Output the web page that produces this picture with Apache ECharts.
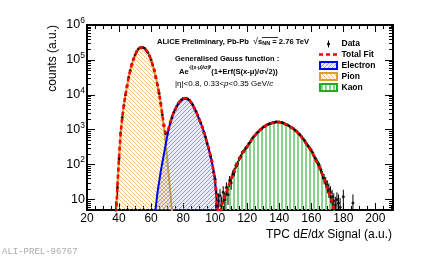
<!DOCTYPE html>
<html><head><meta charset="utf-8">
<script src="https://cdn.jsdelivr.net/npm/echarts@6/dist/echarts.min.js"></script>
<style>html,body{margin:0;padding:0;background:#fff}#c{width:436px;height:257px}</style>
</head><body><div id="c"></div>
<script>
// ---------- data ----------
const pionStart = 38;
const pion = [
  2.5, 25, 160, 790, 2200, 5000, 10000, 17800, 31600, 50100,
  74100, 104700, 138000, 173800, 204000, 224000, 229000, 229000, 214000, 190500,
  162000, 131800, 100000, 72400, 50100, 31600, 19000, 11200, 5620, 2630,
  1150, 447, 158, 52, 16.6, 5, 1.6
];
const electronStart = 62;
const electron = [
  3.2, 6.3, 16, 32, 63, 112, 200, 355, 630, 1050,
  1585, 2240, 3020, 3800, 4680, 5620, 6460, 7240, 7760, 7940,
  7940, 7590, 6920, 6030, 5130, 4170, 3390, 2630, 1995, 1585,
  1175, 851, 603, 417, 282, 186, 117, 66, 33, 8,
  2.5
];
const kaonStart = 103;
const kaon = [
  3.2, 6.6, 8.9, 12, 15.8, 21.9, 29.5, 39.8, 52.5, 70.8,
  89, 112, 141, 178, 214, 251, 288, 331, 389, 457,
  537, 631, 708, 794, 891, 977, 1072, 1175, 1259, 1349,
  1413, 1479, 1549, 1585, 1622, 1660, 1660, 1660, 1622, 1585,
  1514, 1445, 1380, 1288, 1202, 1122, 1047, 955, 871, 776,
  692, 603, 525, 447, 380, 331, 282, 245, 200, 158,
  129, 105, 83, 65, 50, 38, 29, 22, 16, 11.7,
  8.3, 5.6, 3.2
];
const totalStart = 38;
const totalFit = [
  2.5, 25, 160, 790, 2200, 5000, 10000, 17800, 31600, 50100,
  74100, 104700, 138000, 173800, 204000, 224000, 229000, 229000, 214000, 190500,
  162000, 131800, 100000, 72400, 50100, 31610, 19020, 11230, 5680, 2740,
  1350, 802, 788, 1102, 1602, 2245, 3022, 3800, 4680, 5620,
  6460, 7240, 7760, 7940, 7940, 7590, 6920, 6030, 5130, 4170,
  3390, 2630, 1995, 1585, 1175, 851, 603, 417, 282, 186,
  117, 66, 33, 8.8, 4,
  3.2, 6.6, 8.9, 12, 15.8, 21.9, 29.5, 39.8, 52.5, 70.8,
  89, 112, 141, 178, 214, 251, 288, 331, 389, 457,
  537, 631, 708, 794, 891, 977, 1072, 1175, 1259, 1349,
  1413, 1479, 1549, 1585, 1622, 1660, 1660, 1660, 1622, 1585,
  1514, 1445, 1380, 1288, 1202, 1122, 1047, 955, 871, 776,
  692, 603, 525, 447, 380, 331, 282, 245, 200, 158,
  129, 105, 83, 65, 50, 38, 29, 22, 16, 11.7,
  8.3, 5.6, 3.2
];
const dataStart = 38;
const dataCounts = [
  5, 22, 150, 800, 2250, 4900, 10100, 17500, 31900, 49800,
  74500, 104000, 138500, 173000, 205000, 223000, 230000, 228000, 215000, 190000,
  163000, 131000, 100500, 72000, 50400, 31400, 19100, 11150, 5700, 2700,
  1340, 790, 800, 1090, 1620, 2230, 3050, 3780, 4700, 5600,
  6480, 7200, 7800, 7900, 7980, 7550, 6950, 6000, 5150, 4150,
  3400, 2600, 2010, 1570, 1190, 840, 615, 405, 290, 180,
  125, 60, 38, 14, 9, 13, 7, 16, 10, 22,
  14, 35, 30, 55, 62, 95, 105, 150, 170, 225,
  245, 300, 325, 400, 450, 550, 640, 700, 810, 880,
  990, 1060, 1190, 1250, 1360, 1400, 1500, 1530, 1600, 1610,
  1680, 1650, 1670, 1600, 1600, 1500, 1420, 1390, 1300, 1190,
  1140, 1060, 970, 890, 790, 720, 630, 550, 480, 410,
  345, 300, 260, 215, 170, 140, 115, 95, 72, 52,
  40, 33, 25, 20, 16, 12, 9, 7, 10, 8,
  6
];
const dataErrors = [
  4, 9, 25, 57, 95, 140, 200, 265, 360, 445,
  545, 645, 745, 830, 905, 945, 960, 955, 925, 870,
  805, 725, 635, 535, 450, 355, 275, 210, 150, 104,
  73, 56, 57, 66, 80, 95, 110, 123, 137, 150,
  160, 170, 176, 178, 179, 174, 167, 155, 144, 129,
  117, 102, 90, 79, 69, 58, 50, 40, 34, 27,
  22, 15, 12, 8, 6, 7, 5, 8, 6, 9,
  7, 12, 11, 15, 16, 19, 20, 24, 26, 30,
  31, 35, 36, 40, 42, 47, 51, 53, 57, 59,
  63, 65, 69, 71, 74, 75, 77, 78, 80, 80,
  82, 81, 82, 80, 80, 77, 75, 75, 72, 69,
  68, 65, 62, 60, 56, 54, 50, 47, 44, 40,
  37, 35, 32, 29, 26, 24, 21, 19, 17, 14,
  13, 11, 10, 9, 8, 7, 6, 5, 6, 6,
  5
];
const extraDataX = [180, 186];
const extraDataY = [12, 8];
const extraDataErr = [7, 6];

const xMin = 20, xMax = 211, xStep = 20;
const yMin = 5, yMax = 1e6;
const yMinorTicks = [6, 7, 8, 9,
  20, 30, 40, 50, 60, 70, 80, 90,
  200, 300, 400, 500, 600, 700, 800, 900,
  2000, 3000, 4000, 5000, 6000, 7000, 8000, 9000,
  20000, 30000, 40000, 50000, 60000, 70000, 80000, 90000,
  200000, 300000, 400000, 500000, 600000, 700000, 800000, 900000];

// ---------- helpers ----------
function pairs(start, arr) { return arr.map((v, i) => [start + i, v]); }
function hatch(color, kind, size, lw, bg) {
  const c = document.createElement('canvas'); c.width = size; c.height = size;
  const g = c.getContext('2d');
  g.clearRect(0, 0, size, size);
  if (bg) { g.fillStyle = bg; g.fillRect(0, 0, size, size); }
  g.strokeStyle = color; g.lineWidth = lw;
  for (const o of [-size, 0, size]) {
    g.beginPath();
    if (kind === 'back') { g.moveTo(o, 0); g.lineTo(o + size, size); }
    else if (kind === 'fwd') { g.moveTo(o, size); g.lineTo(o + size, 0); }
    else { g.moveTo(size / 2, 0); g.lineTo(size / 2, size); }
    g.stroke();
  }
  return c;
}
const pionCol = '#d9a22a', elecCol = '#0000ff', kaonCol = '#119911', fitCol = '#ff0000';
const pionPat = { image: hatch('rgba(230,160,20,0.6)', 'back', 4, 1), repeat: 'repeat' };
const elecPat = { image: hatch('rgba(110,110,255,0.75)', 'fwd', 4, 0.9, 'rgba(150,150,255,0.2)'), repeat: 'repeat' };
const kaonPat = { image: hatch('#78cc78', 'vert', 4, 1), repeat: 'repeat' };
const FF = 'Liberation Sans, Arial, Helvetica, sans-serif';

const dataPts = pairs(dataStart, dataCounts).map((p, i) => [p[0], p[1], dataErrors[i]])
  .concat(extraDataX.map((x, i) => [x, extraDataY[i], extraDataErr[i]]));

const xAxisBase = {
  type: 'value', min: xMin, max: xMax, interval: xStep,
  axisLine: { show: true, onZero: false, lineStyle: { color: '#000', width: 2 } },
  axisTick: { show: true, inside: true, length: 7, lineStyle: { color: '#000', width: 1 } },
  minorTick: { show: true, splitNumber: 4, length: 4, lineStyle: { color: '#000', width: 1 } },
  splitLine: { show: false }
};
const yAxisBase = {
  type: 'log', logBase: 10, min: yMin, max: yMax,
  axisLine: { show: true, onZero: false, lineStyle: { color: '#000', width: 2 } },
  axisTick: { show: true, inside: true, length: 8, lineStyle: { color: '#000', width: 1 } },
  splitLine: { show: false }
};

const chart = echarts.init(document.getElementById('c'), null, { renderer: 'canvas', width: 436, height: 257 });
chart.setOption({
  animation: false,
  backgroundColor: '#fff',
  grid: { left: 87, right: 43, top: 25, bottom: 47 },
  xAxis: [
    Object.assign({}, xAxisBase, { position: 'bottom',
      axisLabel: { color: '#000', fontSize: 12, fontFamily: FF, margin: 3, showMaxLabel: false } }),
    Object.assign({}, xAxisBase, { position: 'top', axisLabel: { show: false } })
  ],
  yAxis: [
    Object.assign({}, yAxisBase, { position: 'left',
      axisLabel: {
        margin: 2, color: '#000', fontFamily: FF,
        formatter: function (v) {
          const e = Math.round(Math.log10(v));
          if (Math.abs(Math.pow(10, e) - v) > 1e-6 * v) return '';
          if (e === 1) return '{b|10}';
          return '{b|10}{s|' + e + '}';
        },
        rich: {
          b: { fontSize: 12.5, fontFamily: FF, color: '#000', lineHeight: 18 },
          s: { fontSize: 8.5, fontFamily: FF, color: '#000', lineHeight: 10, verticalAlign: 'top' }
        }
      } }),
    Object.assign({}, yAxisBase, { position: 'right', axisLabel: { show: false } })
  ],
  series: [
    { name: 'Pion', type: 'line', data: pairs(pionStart, pion), showSymbol: false, z: 2,
      lineStyle: { color: pionCol, width: 2 }, itemStyle: { color: pionCol },
      areaStyle: { color: pionPat, origin: 'start', opacity: 1 } },
    { name: 'Electron', type: 'line', data: pairs(electronStart, electron), showSymbol: false, z: 3,
      lineStyle: { color: elecCol, width: 2 }, itemStyle: { color: elecCol },
      areaStyle: { color: elecPat, origin: 'start', opacity: 1 } },
    { name: 'Kaon', type: 'line', data: pairs(kaonStart, kaon), showSymbol: false, z: 2,
      lineStyle: { color: kaonCol, width: 2 }, itemStyle: { color: kaonCol },
      areaStyle: { color: kaonPat, origin: 'start', opacity: 1 } },
    { name: 'Data errors', type: 'custom', z: 4, clip: true, silent: true,
      data: dataPts, encode: { x: 0, y: 1 },
      renderItem: function (params, api) {
        const x = api.value(0), y = api.value(1), e = api.value(2);
        const lo = Math.max(y - e, yMin), hi = Math.min(y + e, yMax);
        const p1 = api.coord([x, lo]), p2 = api.coord([x, hi]);
        return { type: 'line', shape: { x1: p1[0], y1: p1[1], x2: p2[0], y2: p2[1] },
          style: { stroke: '#000', lineWidth: 1 } };
      } },
    { name: 'Data', type: 'scatter', z: 5, symbol: 'circle', symbolSize: 3,
      data: dataPts.map(p => [p[0], p[1]]), itemStyle: { color: '#000' } },
    { name: 'Total Fit', type: 'line', data: pairs(totalStart, totalFit), showSymbol: false, z: 8,
      lineStyle: { color: fitCol, width: 2.6, type: [4, 3] } },
    { name: 'minor', type: 'custom', z: 9, silent: true,
      data: yMinorTicks.map(v => [xMin, v]), encode: { x: 0, y: 1 },
      renderItem: function (params, api) {
        const p = api.coord([api.value(0), api.value(1)]);
        const cs = params.coordSys; const y = Math.round(p[1]) + 0.5;
        return { type: 'group', children: [
          { type: 'line', shape: { x1: cs.x, y1: y, x2: cs.x + 4, y2: y }, style: { stroke: '#000', lineWidth: 1 } },
          { type: 'line', shape: { x1: cs.x + cs.width - 4, y1: y, x2: cs.x + cs.width, y2: y }, style: { stroke: '#000', lineWidth: 1 } }
        ] };
      } }
  ],
  graphic: [
    { type: 'text', x: 53, y: 25, rotation: Math.PI / 2,
      style: { text: 'counts (a.u.)', fill: '#000', font: '12px ' + FF, align: 'right', verticalAlign: 'middle' } },
    { type: 'text', x: 392, y: 235,
      style: { text: 'TPC d{i|E}/d{i|x} Signal (a.u.)', fill: '#000', font: '12px ' + FF, align: 'right', verticalAlign: 'middle',
        rich: { i: { fontStyle: 'italic', fontSize: 12, fontFamily: FF } } } },
    { type: 'text', x: 157, y: 42,
      style: { text: 'ALICE Preliminary, Pb-Pb  {sq|√}{s|s}{sub|NN} = 2.76 TeV', fill: '#000',
        font: 'bold 7.6px ' + FF, verticalAlign: 'middle',
        rich: { sq: { fontSize: 9, fontFamily: FF }, s: { fontSize: 7.6, fontWeight: 'bold', fontFamily: FF },
          sub: { fontSize: 5.5, fontWeight: 'bold', fontFamily: FF, verticalAlign: 'bottom', lineHeight: 6 } } } },
    { type: 'line', shape: { x1: 262, y1: 37.5, x2: 278, y2: 37.5 }, style: { stroke: '#000', lineWidth: 0.8 } },
    { type: 'text', x: 175, y: 59,
      style: { text: 'Generalised Gauss function :', fill: '#000', font: 'bold 7.5px ' + FF, verticalAlign: 'middle' } },
    { type: 'text', x: 179, y: 72,
      style: { text: '{n|Ae}{sp|-|(x-μ)/σ|}{sb|β}{n|(1+Erf(S(x-μ)/σ√2))}', fill: '#000', verticalAlign: 'middle',
        rich: { n: { fontSize: 7.6, fontWeight: 'bold', fontFamily: FF, lineHeight: 14 },
          sp: { fontSize: 5, fontWeight: 'bold', fontFamily: FF, lineHeight: 6, verticalAlign: 'top' },
          sb: { fontSize: 4, fontWeight: 'bold', fontFamily: FF, lineHeight: 2, verticalAlign: 'top' } } } },
    { type: 'text', x: 175, y: 84,
      style: { text: '|η|<0.8, 0.33<{i|p}<0.35 GeV/{i|c}', fill: '#000', font: '8px ' + FF, verticalAlign: 'middle',
        rich: { i: { fontStyle: 'italic', fontSize: 8, fontFamily: FF } } } },
    { type: 'line', shape: { x1: 328.5, y1: 40.5, x2: 328.5, y2: 47.5 }, style: { stroke: '#000', lineWidth: 1 } },
    { type: 'circle', shape: { cx: 328.5, cy: 44, r: 1.5 }, style: { fill: '#000' } },
    { type: 'line', shape: { x1: 319, y1: 54.5, x2: 338, y2: 54.5 }, style: { stroke: fitCol, lineWidth: 2.6, lineDash: [4, 3] } },
    { type: 'rect', shape: { x: 320, y: 62, width: 17, height: 7 }, style: { fill: elecPat, stroke: elecCol, lineWidth: 2 } },
    { type: 'rect', shape: { x: 320, y: 73, width: 17, height: 7 }, style: { fill: pionPat, stroke: pionCol, lineWidth: 2 } },
    { type: 'rect', shape: { x: 320, y: 84, width: 17, height: 7 }, style: { fill: kaonPat, stroke: '#22aa22', lineWidth: 2 } },
    { type: 'text', x: 341.5, y: 44, style: { text: 'Data', fill: '#000', font: 'bold 8.5px ' + FF, verticalAlign: 'middle' } },
    { type: 'text', x: 341.5, y: 54.5, style: { text: 'Total Fit', fill: '#000', font: 'bold 8.5px ' + FF, verticalAlign: 'middle' } },
    { type: 'text', x: 341.5, y: 65.5, style: { text: 'Electron', fill: '#000', font: 'bold 8.5px ' + FF, verticalAlign: 'middle' } },
    { type: 'text', x: 341.5, y: 76.5, style: { text: 'Pion', fill: '#000', font: 'bold 8.5px ' + FF, verticalAlign: 'middle' } },
    { type: 'text', x: 341.5, y: 87.5, style: { text: 'Kaon', fill: '#000', font: 'bold 8.5px ' + FF, verticalAlign: 'middle' } },
    { type: 'text', x: 2, y: 252, style: { text: 'ALI-PREL-96767', fill: '#aaaaaa', font: '9px Liberation Mono, DejaVu Sans Mono, monospace', verticalAlign: 'middle' } }
  ]
});
</script>
</body></html>
